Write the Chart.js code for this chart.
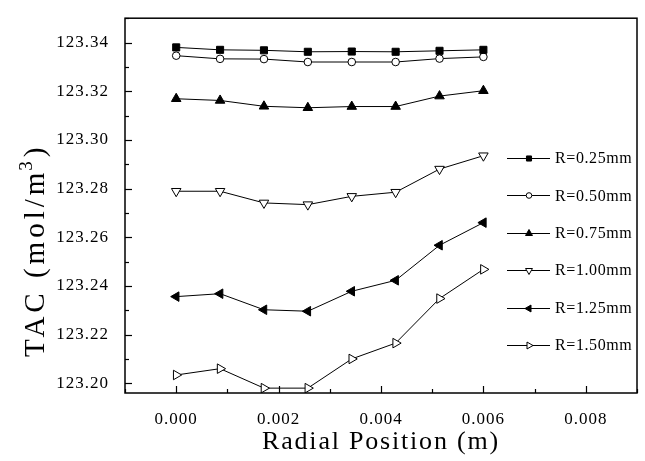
<!DOCTYPE html>
<html>
<head>
<meta charset="utf-8">
<script src="https://cdn.jsdelivr.net/npm/chart.js@4.4.1/dist/chart.umd.min.js"></script>
<style>
  html,body{margin:0;padding:0;background:#fff}
  #wrap{width:645px;height:461px;position:relative}
</style>
</head>
<body>
<div id="wrap"><canvas id="chart"></canvas></div>
<script>
/* radial positions (m) */
const positions = [0, 0.000857, 0.001714, 0.002571, 0.003429, 0.004286, 0.005143, 0.006];

/* TAC (mol/m3) for each radius */
const tacR025 = [123.3380, 123.3370, 123.3368, 123.3362, 123.3363, 123.3362, 123.3366, 123.3370];
const tacR050 = [123.3346, 123.3333, 123.3332, 123.3320, 123.3320, 123.3320, 123.3334, 123.3341];
const tacR075 = [123.3169, 123.3162, 123.3138, 123.3132, 123.3137, 123.3137, 123.3180, 123.3202];
const tacR100 = [123.2789, 123.2789, 123.2741, 123.2734, 123.2768, 123.2785, 123.2880, 123.2935];
const tacR125 = [123.2356, 123.2368, 123.2302, 123.2296, 123.2378, 123.2423, 123.2567, 123.2660];
const tacR150 = [123.2034, 123.2060, 123.1980, 123.1980, 123.2100, 123.2165, 123.2348, 123.2468];

const seriesLabels = ['R=0.25mm', 'R=0.50mm', 'R=0.75mm', 'R=1.00mm', 'R=1.25mm', 'R=1.50mm'];
const seriesValues = [tacR025, tacR050, tacR075, tacR100, tacR125, tacR150];

/* marker look per series */
const markers = [
  {style:'rect',     rot:0,   fill:'#000', r:5,   lr:3.6},
  {style:'circle',   rot:0,   fill:'#fff', r:3.8, lr:2.8},
  {style:'triangle', rot:0,   fill:'#000', r:5.5, lr:4},
  {style:'triangle', rot:180, fill:'#fff', r:5.5, lr:4},
  {style:'triangle', rot:270, fill:'#000', r:5.5, lr:4},
  {style:'triangle', rot:90,  fill:'#fff', r:5.5, lr:4}
];

const SERIF = '"Liberation Serif", "Times New Roman", serif';

function setSpacing(ctx, v){ if ('letterSpacing' in ctx) ctx.letterSpacing = v; }

/* draw a marker the same way Chart.js does */
function marker(ctx, m, x, y, r){
  ctx.save();
  ctx.fillStyle = m.fill; ctx.strokeStyle = '#000'; ctx.lineWidth = 1;
  Chart.helpers.drawPoint(ctx, {pointStyle:m.style, rotation:m.rot, radius:r, borderWidth:1}, x, y);
  ctx.restore();
}

/* frame, inward ticks, axis titles, legend */
const decorations = {
  id:'decorations',
  beforeLayout(chart){ setSpacing(chart.ctx, '1px'); },
  beforeDraw(chart){
    const ctx = chart.ctx;
    ctx.save(); ctx.fillStyle = '#fff'; ctx.fillRect(0,0,chart.width,chart.height); ctx.restore();
    setSpacing(ctx, '1px');
  },
  afterDraw(chart){
    const ctx = chart.ctx, a = chart.chartArea;
    const xs = chart.scales.x, ys = chart.scales.y;
    ctx.save();
    ctx.strokeStyle = '#000';
    ctx.lineWidth = 1.5;
    ctx.strokeRect(a.left, a.top, a.right - a.left, a.bottom - a.top);

    // inward tick marks, long on labelled values
    ctx.lineWidth = 1.2;
    ys.ticks.forEach(t=>{
      const y = Math.round(ys.getPixelForValue(t.value)) + 0.5;
      const len = Math.round(t.value*100) % 2 === 0 ? 7 : 4;
      ctx.beginPath();
      ctx.moveTo(a.left, y); ctx.lineTo(a.left + len, y);
      ctx.stroke();
    });
    xs.ticks.forEach(t=>{
      const x = Math.round(xs.getPixelForValue(t.value)) + 0.5;
      const len = Math.round(t.value*1000) % 2 === 0 ? 7 : 4;
      ctx.beginPath();
      ctx.moveTo(x, a.bottom); ctx.lineTo(x, a.bottom - len);
      ctx.stroke();
    });

    // axis titles
    ctx.fillStyle = '#000';
    setSpacing(ctx, '1.8px');
    ctx.font = '26px ' + SERIF;
    ctx.textAlign = 'center';
    ctx.textBaseline = 'alphabetic';
    ctx.fillText('Radial Position (m)', (a.left + a.right)/2, 449);

    ctx.save();
    ctx.translate(44, 357);
    ctx.rotate(-Math.PI/2);
    ctx.textAlign = 'left';
    setSpacing(ctx, '4px');
    ctx.font = '29px ' + SERIF;
    let p = 'TAC (mol/m';
    ctx.fillText(p, 0, 0);
    let w = ctx.measureText(p).width;
    ctx.font = '19px ' + SERIF;
    ctx.fillText('3', w - 2, -12);
    w += ctx.measureText('3').width - 2;
    ctx.font = '29px ' + SERIF;
    ctx.fillText(')', w, 0);
    ctx.restore();

    // legend
    setSpacing(ctx, '0.6px');
    ctx.font = '16px ' + SERIF;
    ctx.textAlign = 'left';
    ctx.textBaseline = 'middle';
    ctx.lineWidth = 1;
    seriesLabels.forEach((lab, i)=>{
      const y = 158 + i*37.4;
      ctx.beginPath();
      ctx.moveTo(507, Math.round(y) + 0.5); ctx.lineTo(550, Math.round(y) + 0.5);
      ctx.stroke();
      marker(ctx, markers[i], 529, Math.round(y) + 0.5, markers[i].lr);
      ctx.fillText(lab, 555, y + 1);
    });
    ctx.restore();
  }
};

const datasets = seriesValues.map((vals, i)=>({
  label: seriesLabels[i],
  data: positions.map((x, j)=>({x:x, y:vals[j]})),
  borderColor:'#000',
  borderWidth:1,
  pointStyle: markers[i].style,
  pointRotation: markers[i].rot,
  pointRadius: markers[i].r,
  pointBackgroundColor: markers[i].fill,
  pointBorderColor:'#000',
  pointBorderWidth:1,
  tension:0,
  fill:false
}));

new Chart(document.getElementById('chart'), {
  type:'line',
  data:{ datasets },
  options:{
    responsive:true,
    maintainAspectRatio:false,
    animation:false,
    devicePixelRatio:1,
    layout:{ padding:{ top:9, right:4, left:0, bottom:0 } },
    plugins:{ legend:{display:false}, tooltip:{enabled:false} },
    scales:{
      x:{
        type:'linear', min:-0.001, max:0.009,
        grid:{display:false}, border:{display:false},
        afterFit(s){ s.height = 68; },
        ticks:{
          stepSize:0.001, autoSkip:false, maxRotation:0, includeBounds:false,
          padding:8, color:'#000', font:{family:SERIF, size:17},
          callback:v => Math.round(v*1000) % 2 === 0 ? Math.abs(v).toFixed(3) : ''
        }
      },
      y:{
        type:'linear', min:123.196, max:123.35,
        grid:{display:false}, border:{display:false},
        afterFit(s){ s.width = 125; },
        ticks:{
          stepSize:0.01, autoSkip:false, includeBounds:false,
          padding:8, color:'#000', font:{family:SERIF, size:17},
          callback:v => Math.round(v*100) % 2 === 0 ? v.toFixed(2) : ''
        }
      }
    }
  },
  plugins:[decorations]
});
</script>
</body>
</html>
